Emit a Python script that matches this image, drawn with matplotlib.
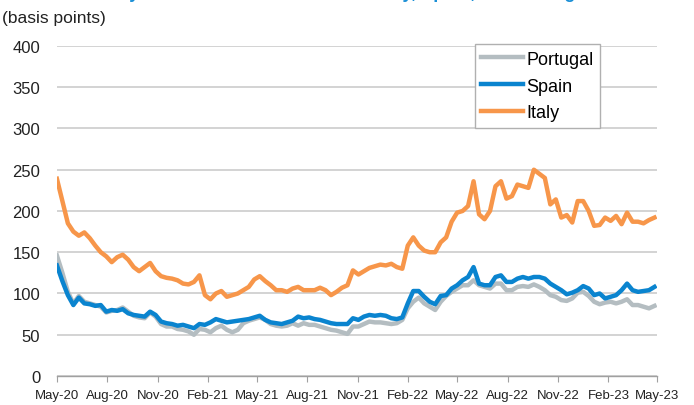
import numpy as np
import pandas as pd
import matplotlib
matplotlib.use('Agg')
import matplotlib.pyplot as plt
import matplotlib.dates as mdates

plt.rcParams['font.family'] = ['Liberation Sans', 'DejaVu Sans']

# spreads vs Germany, basis points, sampled every 10 days from 1 May 2020
italy = [239, 212, 185, 175, 170, 174, 167, 158, 150, 145, 138, 144, 147, 141, 132, 127, 132, 137, 127, 121, 119, 118,
         116, 112, 111, 114, 122, 98, 93, 100, 103, 96, 98, 100, 104, 108, 117, 121, 115, 110, 104, 104, 102, 106,
         108, 104, 104, 104, 107, 104, 98, 102, 107, 110, 128, 123, 127, 131, 133, 135, 134, 136, 132, 130, 158, 168,
         158, 152, 150, 150, 162, 168, 187, 198, 200, 206, 236, 196, 190, 200, 230, 236, 215, 218, 232, 230, 228, 250,
         245, 240, 208, 214, 192, 195, 186, 212, 212, 200, 182, 183, 192, 188, 194, 184, 198, 187, 187, 185, 189, 192]
spain = [134, 115, 98, 86, 95, 88, 87, 85, 86, 78, 80, 79, 81, 76, 74, 73, 72, 78, 74, 66, 64, 63,
         61, 62, 60, 58, 63, 62, 65, 69, 67, 65, 66, 67, 68, 69, 71, 73, 68, 65, 64, 63, 65, 67,
         72, 70, 71, 69, 68, 66, 64, 63, 63, 63, 70, 68, 72, 74, 73, 74, 73, 70, 69, 71, 88, 103,
         103, 96, 90, 87, 97, 98, 106, 110, 116, 120, 132, 112, 110, 110, 120, 122, 114, 114, 118, 120, 118, 120,
         120, 118, 112, 108, 104, 99, 101, 104, 109, 106, 98, 100, 94, 96, 98, 104, 112, 104, 102, 103, 104, 108]
portugal = [146, 125, 102, 88, 97, 90, 88, 86, 84, 77, 79, 80, 83, 78, 73, 71, 70, 77, 72, 63, 60, 60,
            57, 56, 54, 50, 57, 56, 53, 58, 61, 56, 53, 56, 64, 67, 69, 71, 68, 63, 61, 60, 61, 64,
            61, 64, 62, 62, 60, 58, 56, 55, 53, 51, 60, 60, 63, 66, 65, 65, 64, 63, 64, 68, 82, 90,
            95, 88, 84, 80, 90, 97, 102, 106, 110, 110, 116, 110, 108, 106, 112, 112, 104, 104, 108, 109, 108, 111,
            108, 104, 98, 96, 92, 91, 94, 101, 102, 97, 90, 87, 89, 90, 88, 90, 93, 86, 86, 84, 82, 85]

dates = pd.date_range('2020-05-01', periods=len(italy), freq='10D')
tick_dates = pd.date_range('2020-05-01', '2023-05-01', freq='3MS')
y_ticks = list(range(0, 401, 50))

fig = plt.figure(figsize=(6.94, 4.06), dpi=100)
ax = fig.add_axes([0.082, 0.0714, 0.865, 0.813])

ax.plot(dates, portugal, color='#b4bdc1', lw=3.2, label='Portugal')
ax.plot(dates, spain, color='#0a84cf', lw=3.2, label='Spain')
ax.plot(dates, italy, color='#f7964a', lw=3.2, label='Italy')

ax.set_xlim(pd.Timestamp('2020-05-01'), pd.Timestamp('2023-05-01'))
ax.set_ylim(0, 400)
ax.set_yticks(y_ticks)
ax.yaxis.grid(True, color='#d0d0d0', lw=1.3)
ax.set_axisbelow(True)
ax.tick_params(axis='y', length=0, labelsize=12, pad=12, labelcolor='#222222')

ax.set_xticks(tick_dates)
ax.xaxis.set_major_formatter(mdates.DateFormatter('%b-%y'))
ax.tick_params(axis='x', length=4, color='#a0a0a0', labelsize=9.5, pad=5, labelcolor='#222222')

for s in ['top', 'right', 'left']:
    ax.spines[s].set_visible(False)
ax.spines['bottom'].set_color('#a0a0a0')
ax.spines['bottom'].set_linewidth(1.0)

leg = ax.legend(loc='upper right', bbox_to_anchor=(0.905, 1.005), fontsize=13,
                frameon=True, fancybox=False, edgecolor='#b0b0b0', framealpha=1,
                handlelength=2.3, handletextpad=0.2, labelspacing=0.55,
                borderpad=0.35, borderaxespad=0)
for line in leg.get_lines():
    line.set_linewidth(3.2)

fig.text(0.003, 0.955, '(basis points)', fontsize=12.5, color='#222222', va='center')
# title sits mostly above the top edge, as in the source image
fig.text(0.5, 1.0 + 2.0 / 406, '10-year Bond Yields vs. Bunds: Italy, Spain, and Portugal',
         fontsize=13, fontweight='bold', color='#1a8fd6', ha='center', va='baseline')

fig.savefig('out.png', dpi=100)
